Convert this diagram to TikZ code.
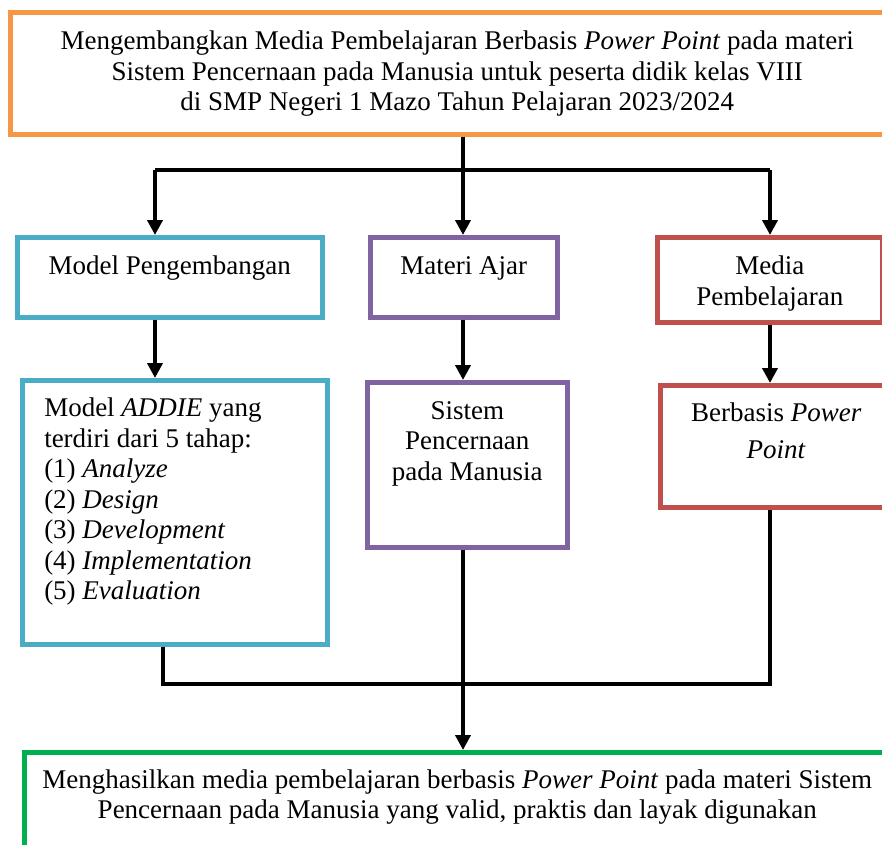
\documentclass[tikz,border=0pt]{standalone}
\usepackage{fontspec}
\setmainfont{Liberation Serif}
\usetikzlibrary{arrows.meta}
\definecolor{corange}{HTML}{F79646}
\definecolor{cblue}{HTML}{4BACC6}
\definecolor{cpurple}{HTML}{8064A2}
\definecolor{cred}{HTML}{C0504D}
\definecolor{cgreen}{HTML}{00B050}
\newcommand\bxt[4]{\parbox[c][#2][t]{#1}{\vspace*{#3}#4}}
\tikzset{
  box/.style={draw=#1, line width=4.5pt, inner sep=0pt, anchor=north west, font=\fontsize{27}{30.5}\selectfont},
  link/.style={line width=4pt, draw=black},
  arr/.style={link, -{Triangle[width=15pt,length=15pt]}},
}
\begin{document}
\begin{tikzpicture}[x=1pt,y=-1pt]
\useasboundingbox (0,0) rectangle (882,844);
% top
\node[box=corange] (top) at (8,10) {\bxt{894pt}{122pt}{19pt}{\centering Mengembangkan Media Pembelajaran Berbasis \textit{Power Point} pada materi\\ Sistem Pencernaan pada Manusia untuk peserta didik kelas VIII\\ di SMP Negeri 1 Mazo Tahun Pelajaran 2023/2024\par}};
% row 2
\node[box=cblue] (model) at (15,235) {\bxt{305pt}{80pt}{19pt}{\centering Model Pengembangan\par}};
\node[box=cpurple] (materi) at (368,235) {\bxt{187pt}{80pt}{19pt}{\centering Materi Ajar\par}};
\node[box=cred] (media) at (655,235) {\bxt{225pt}{85pt}{19pt}{\centering Media\\ Pembelajaran\par}};
% row 3
\node[box=cblue] (addie) at (20,378) {\bxt{305pt}{264pt}{18pt}{\raggedright\leftskip=22pt Model \textit{ADDIE} yang\\ terdiri dari 5 tahap:\\ (1) \textit{Analyze}\\ (2) \textit{Design}\\ (3) \textit{Development}\\ (4) \textit{Implementation}\\ (5) \textit{Evaluation}\par}};
\node[box=cpurple] (sistem) at (365,380) {\bxt{200pt}{165pt}{19pt}{\centering Sistem\\ Pencernaan\\ pada Manusia\par}};
\node[box=cred] (berbasis) at (658,383) {\bxt{232pt}{122pt}{18pt}{\centering\baselineskip=37pt Berbasis \textit{Power}\\ \textit{Point}\par}};
% bottom
\node[box=cgreen] (hasil) at (22,750) {\bxt{866pt}{130pt}{17pt}{\centering Menghasilkan media pembelajaran berbasis \textit{Power Point} pada materi Sistem\\ Pencernaan pada Manusia yang valid, praktis dan layak digunakan\par}};
% connectors
\coordinate (j) at (463,170);
\coordinate (jl) at (155,170);
\coordinate (jr) at (770,170);
\draw[link] (top.south -| j) -- (j);
\draw[link] (jl) -- (jr);
\draw[arr] (jl) -- (jl |- model.north);
\draw[arr] (j) -- (j |- materi.north);
\draw[arr] (jr) -- (jr |- media.north);
\draw[arr] (model.south -| jl) -- (jl |- addie.north);
\draw[arr] (materi.south -| j) -- (j |- sistem.north);
\draw[arr] (media.south -| jr) -- (jr |- berbasis.north);
\coordinate (kl) at (163,684);
\coordinate (kr) at (770,684);
\draw[link] (addie.south -| kl) -- (kl) -- (kr) -- (berbasis.south -| kr);
\draw[arr] (sistem.south -| j) -- (j |- hasil.north);
\end{tikzpicture}
\end{document}
